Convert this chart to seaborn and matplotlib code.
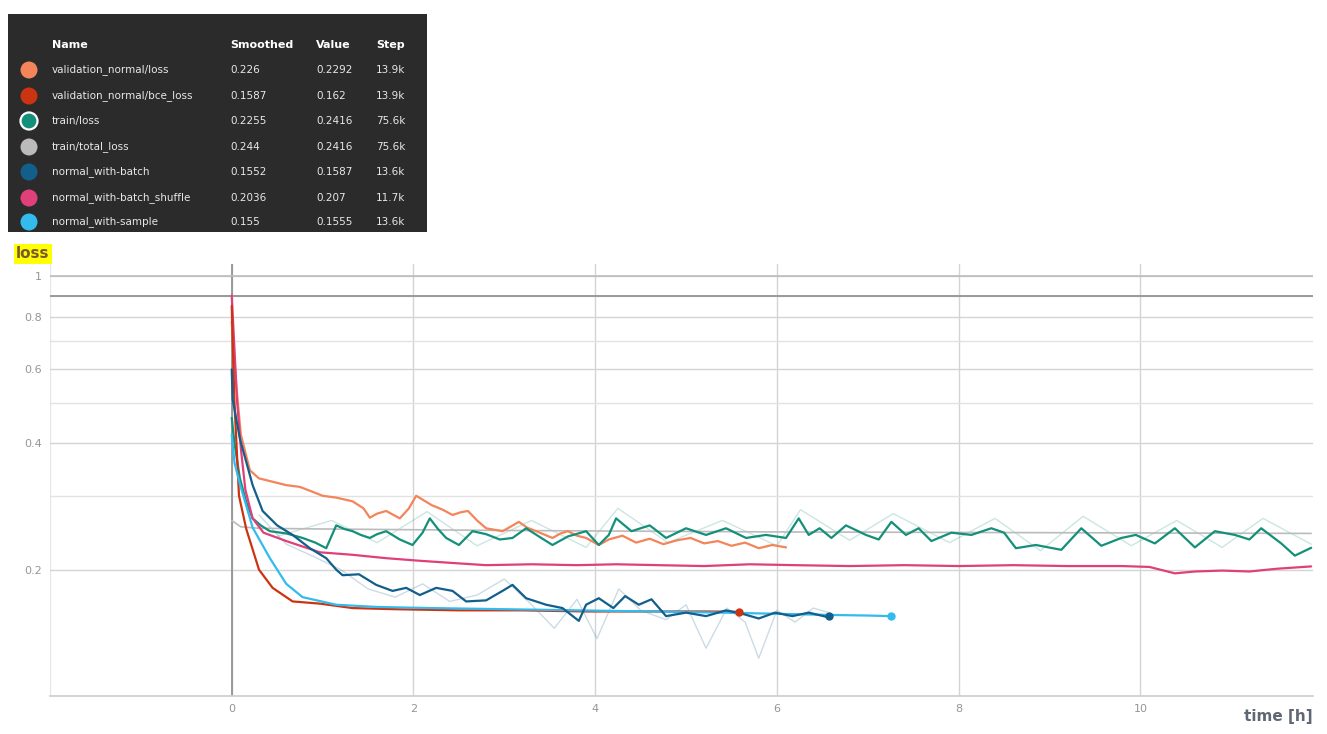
import numpy as np
import pandas as pd
import matplotlib
matplotlib.use("Agg")
import matplotlib.pyplot as plt
from matplotlib.patches import Rectangle, Circle
from matplotlib.ticker import FixedLocator, NullFormatter
import seaborn as sns

# ---- run data: time in hours, smoothed loss ----
orange_t = [0, 0.05, 0.1, 0.2, 0.3, 0.4, 0.5, 0.6, 0.75, 0.9, 1.0, 1.15, 1.33, 1.45, 1.52, 1.6, 1.7, 1.85, 1.95, 2.03,
            2.12, 2.2, 2.32, 2.43, 2.52, 2.6, 2.7, 2.8, 2.98, 3.08, 3.16, 3.25, 3.35, 3.45, 3.53, 3.62, 3.7, 3.8, 3.9, 4.04,
            4.15, 4.3, 4.45, 4.6, 4.75, 4.9, 5.05, 5.2, 5.35, 5.5, 5.65, 5.8, 5.95, 6.1]
orange_v = [0.78, 0.55, 0.42, 0.345, 0.33, 0.326, 0.322, 0.318, 0.315, 0.306, 0.30, 0.297, 0.291, 0.28, 0.266, 0.272, 0.276, 0.265, 0.28, 0.30,
            0.292, 0.285, 0.278, 0.27, 0.274, 0.276, 0.262, 0.251, 0.247, 0.254, 0.26, 0.252, 0.247, 0.242, 0.238, 0.244, 0.247, 0.241, 0.238, 0.229,
            0.236, 0.241, 0.232, 0.237, 0.230, 0.235, 0.238, 0.231, 0.234, 0.228, 0.232, 0.225, 0.229, 0.226]

red_t = [0, 0.03, 0.08, 0.16, 0.3, 0.45, 0.67, 0.97, 1.33, 1.8, 2.5, 3.2, 3.9, 4.6, 5.2, 5.58]
red_v = [0.85, 0.5, 0.3, 0.25, 0.2, 0.181, 0.168, 0.166, 0.162, 0.161, 0.160, 0.160, 0.159, 0.159, 0.159, 0.1587]

teal_t = [0, 0.03, 0.09, 0.16, 0.23, 0.32, 0.42, 0.6, 0.78, 0.92, 1.04, 1.15, 1.24, 1.33, 1.42, 1.52, 1.6, 1.7, 1.85, 1.99,
          2.1, 2.18, 2.27, 2.36, 2.5, 2.65, 2.8, 2.95, 3.09, 3.24, 3.38, 3.53, 3.7, 3.9, 4.04, 4.15, 4.23, 4.4, 4.6, 4.78,
          5.0, 5.22, 5.44, 5.66, 5.88, 6.1, 6.24, 6.35, 6.47, 6.6, 6.76, 6.98, 7.12, 7.26, 7.42, 7.56, 7.7, 7.92, 8.14, 8.36,
          8.5, 8.63, 8.85, 9.13, 9.35, 9.57, 9.79, 9.95, 10.16, 10.38, 10.6, 10.82, 11.04, 11.2, 11.33, 11.55, 11.7, 11.88]
teal_v = [0.46, 0.40, 0.33, 0.29, 0.265, 0.255, 0.247, 0.244, 0.238, 0.232, 0.225, 0.255, 0.25, 0.247, 0.242, 0.238, 0.243, 0.247, 0.236, 0.229,
          0.245, 0.265, 0.25, 0.238, 0.229, 0.247, 0.243, 0.236, 0.238, 0.251, 0.24, 0.229, 0.24, 0.247, 0.229, 0.242, 0.265, 0.247, 0.255, 0.238,
          0.251, 0.242, 0.251, 0.238, 0.242, 0.238, 0.265, 0.242, 0.251, 0.238, 0.255, 0.242, 0.236, 0.26, 0.242, 0.251, 0.234, 0.245, 0.242, 0.251,
          0.245, 0.225, 0.229, 0.223, 0.251, 0.228, 0.238, 0.242, 0.231, 0.251, 0.226, 0.247, 0.242, 0.236, 0.251, 0.231, 0.216, 0.2255]

grey_t = [0, 0.1, 0.3, 1, 3, 6, 9, 11.88]
grey_v = [0.262, 0.253, 0.251, 0.25, 0.248, 0.246, 0.245, 0.244]

blue_t = [0, 0.01, 0.09, 0.23, 0.34, 0.5, 0.67, 0.86, 1.04, 1.15, 1.22, 1.4, 1.59, 1.77, 1.92, 2.07, 2.25, 2.43, 2.58, 2.8,
          2.98, 3.09, 3.24, 3.46, 3.64, 3.82, 3.9, 4.04, 4.2, 4.33, 4.48, 4.62, 4.78, 5.0, 5.22, 5.44, 5.62, 5.8, 5.98, 6.17,
          6.35, 6.54, 6.57]
blue_v = [0.6, 0.51, 0.41, 0.318, 0.276, 0.255, 0.242, 0.225, 0.213, 0.2, 0.194, 0.195, 0.184, 0.178, 0.181, 0.174, 0.181, 0.178, 0.168, 0.169,
          0.178, 0.184, 0.171, 0.165, 0.162, 0.151, 0.165, 0.171, 0.162, 0.173, 0.165, 0.17, 0.155, 0.158, 0.155, 0.16, 0.157, 0.153, 0.158, 0.155,
          0.158, 0.1545, 0.1552]

pink_t = [0, 0.02, 0.06, 0.1, 0.15, 0.23, 0.35, 0.6, 0.97, 1.33, 1.7, 2.07, 2.5, 2.8, 3.3, 3.8, 4.23, 4.7, 5.2, 5.7,
          6.2, 6.8, 7.4, 8.0, 8.6, 9.2, 9.8, 10.1, 10.38, 10.6, 10.9, 11.2, 11.5, 11.88]
pink_v = [0.9, 0.74, 0.5, 0.39, 0.31, 0.265, 0.245, 0.234, 0.22, 0.217, 0.213, 0.21, 0.207, 0.205, 0.206, 0.205, 0.206, 0.205, 0.204, 0.206,
          0.205, 0.204, 0.205, 0.204, 0.205, 0.204, 0.204, 0.203, 0.196, 0.198, 0.199, 0.198, 0.201, 0.2036]

cyan_t = [0, 0.03, 0.09, 0.23, 0.42, 0.6, 0.78, 1.15, 1.6, 2.2, 3.0, 3.8, 4.6, 5.4, 6.0, 6.6, 7.0, 7.26]
cyan_v = [0.42, 0.36, 0.32, 0.252, 0.213, 0.185, 0.172, 0.165, 0.163, 0.162, 0.161, 0.160, 0.159, 0.158, 0.157, 0.156, 0.1555, 0.1550]

# unsmoothed readings drawn faintly behind the smoothed curves
blue_raw_t = [0.3, 0.6, 0.9, 1.2, 1.5, 1.8, 2.1, 2.4, 2.7, 3.0, 3.3, 3.55, 3.8, 4.02, 4.26, 4.5, 4.78, 5.0, 5.22, 5.45,
              5.65, 5.8, 6.0, 6.2, 6.4, 6.57]
blue_raw_v = [0.27, 0.23, 0.215, 0.2, 0.18, 0.172, 0.185, 0.168, 0.174, 0.19, 0.165, 0.145, 0.17, 0.137, 0.18, 0.16, 0.152, 0.165, 0.13, 0.162,
              0.15, 0.123, 0.16, 0.15, 0.162, 0.158]
teal_raw_t = [0.5, 1.1, 1.6, 2.15, 2.7, 3.3, 3.9, 4.25, 4.8, 5.4, 6.0, 6.26, 6.8, 7.28, 7.9, 8.4, 8.9, 9.37, 9.9, 10.4,
              10.9, 11.35, 11.88]
teal_raw_v = [0.24, 0.262, 0.232, 0.275, 0.228, 0.262, 0.226, 0.28, 0.232, 0.262, 0.228, 0.278, 0.235, 0.272, 0.232, 0.265, 0.222, 0.268, 0.228, 0.262,
              0.226, 0.265, 0.23]

run_names = ["validation_normal/loss", "validation_normal/bce_loss", "train/loss", "train/total_loss",
             "normal_with-batch", "normal_with-batch_shuffle", "normal_with-sample"]
run_colors = ["#f4845a", "#cc3311", "#14907a", "#bbbbbb", "#125f8c", "#e0407a", "#33bbee"]
run_values = [0.2292, 0.162, 0.2416, 0.2416, 0.1587, 0.207, 0.1555]
run_steps = ["13.9k", "13.9k", "75.6k", "75.6k", "13.6k", "11.7k", "13.6k"]
series = [(orange_t, orange_v), (red_t, red_v), (teal_t, teal_v), (grey_t, grey_v),
          (blue_t, blue_v), (pink_t, pink_v), (cyan_t, cyan_v)]

x_ticks = [0, 2, 4, 6, 8, 10]
y_ticks = [0.2, 0.4, 0.6, 0.8, 1.0]
y_tick_labels = ["0.2", "0.4", "0.6", "0.8", "1"]
y_minor = [0.1, 0.3, 0.5, 0.7, 0.9]

frames = []
for name, (t, v) in zip(run_names, series):
    frames.append(pd.DataFrame({"time": t, "loss": v, "run": name}))
df = pd.concat(frames, ignore_index=True)
raw_df = pd.concat([
    pd.DataFrame({"time": blue_raw_t, "loss": blue_raw_v, "run": run_names[4]}),
    pd.DataFrame({"time": teal_raw_t, "loss": teal_raw_v, "run": run_names[2]}),
], ignore_index=True)

sns.set_theme(style="white")
plt.rcParams["font.family"] = ["DejaVu Sans"]

fig = plt.figure(figsize=(13.27, 7.34), dpi=100)
W, H = 1327, 734
ax = fig.add_axes([50 / W, 1 - 696 / H, (1313 - 50) / W, (696 - 264) / H])

# faint raw traces
for i in (4, 2):
    sub = raw_df[raw_df["run"] == run_names[i]]
    sns.lineplot(data=sub, x="time", y="loss", color=run_colors[i], ax=ax, alpha=0.22,
                 linewidth=1.0, estimator=None, sort=False, legend=False)

# smoothed curves: grey underneath, then the others
order = [3, 0, 2, 5, 1, 6, 4]
for i in order:
    sub = df[df["run"] == run_names[i]]
    sns.lineplot(data=sub, x="time", y="loss", color=run_colors[i], ax=ax,
                 linewidth=1.6 if i != 3 else 1.2, estimator=None, sort=False, legend=False)

# end-of-run dots
for i in (1, 4, 6):
    t, v = series[i]
    ax.plot([t[-1]], [v[-1]], "o", color=run_colors[i], markersize=5, zorder=5)

ax.set_yscale("log")
ax.set_xlim(-2, 11.9)
ax.set_ylim(0.1, 1.07)
ax.yaxis.set_major_locator(FixedLocator(y_ticks))
ax.set_yticklabels(y_tick_labels)
ax.yaxis.set_minor_locator(FixedLocator(y_minor))
ax.yaxis.set_minor_formatter(NullFormatter())
ax.set_xticks(x_ticks)
ax.set_xticklabels([str(x) for x in x_ticks])
ax.grid(True, which="major", axis="both", color="#d4d4d4", linewidth=1.0)
ax.grid(True, which="minor", axis="y", color="#e2e2e2", linewidth=1.0)
ax.axvline(-2, color="#e6e6e6", linewidth=1.0, zorder=0)
ax.axvline(0, color="#8c8c8c", linewidth=1.2, zorder=1)
ax.axhline(1.0, color="#bdbdbd", linewidth=1.2, zorder=1)
ax.axhline(0.9, color="#9a9a9a", linewidth=1.4, zorder=1)
for s in ["top", "right", "left"]:
    ax.spines[s].set_visible(False)
ax.spines["bottom"].set_color("#cfcfcf")
ax.tick_params(axis="both", which="both", length=0, labelsize=8, colors="#959595", pad=6)
ax.set_xlabel("")
ax.set_ylabel("")

# overlay in pixel coordinates for the header panel and labels
ov = fig.add_axes([0, 0, 1, 1], facecolor="none")
ov.set_xlim(0, W)
ov.set_ylim(H, 0)
ov.axis("off")

ov.add_patch(Rectangle((8, 14), 419, 218, facecolor="#2b2b2b", edgecolor="none"))
hdr_y = 45
cols_x = [52, 230, 316, 376]
for x, txt in zip(cols_x, ["Name", "Smoothed", "Value", "Step"]):
    ov.text(x, hdr_y, txt, color="white", fontsize=8, fontweight="bold", va="center", ha="left")
row_y = [70, 96, 121, 147, 172, 198, 222]
for i, y in enumerate(row_y):
    t, v = series[i]
    ov.add_patch(Circle((29, y), 8.5, facecolor=run_colors[i],
                        edgecolor="white" if i == 2 else "none", linewidth=1.6))
    ov.text(cols_x[0], y, run_names[i], color="#e8e8e8", fontsize=7.5, va="center")
    ov.text(cols_x[1], y, f"{v[-1]:.4g}", color="#e8e8e8", fontsize=7.5, va="center")
    ov.text(cols_x[2], y, f"{run_values[i]:.4g}", color="#e8e8e8", fontsize=7.5, va="center")
    ov.text(cols_x[3], y, run_steps[i], color="#e8e8e8", fontsize=7.5, va="center")

ov.text(16, 254, "loss", fontsize=11, fontweight="bold", color="#7a5a2a", va="center", ha="left",
        bbox=dict(boxstyle="square,pad=0.15", facecolor="#ffff00", edgecolor="none"))
ov.text(1313, 716, "time [h]", fontsize=11, fontweight="bold", color="#5f6674", va="center", ha="right")

fig.savefig("out.png", dpi=100)
